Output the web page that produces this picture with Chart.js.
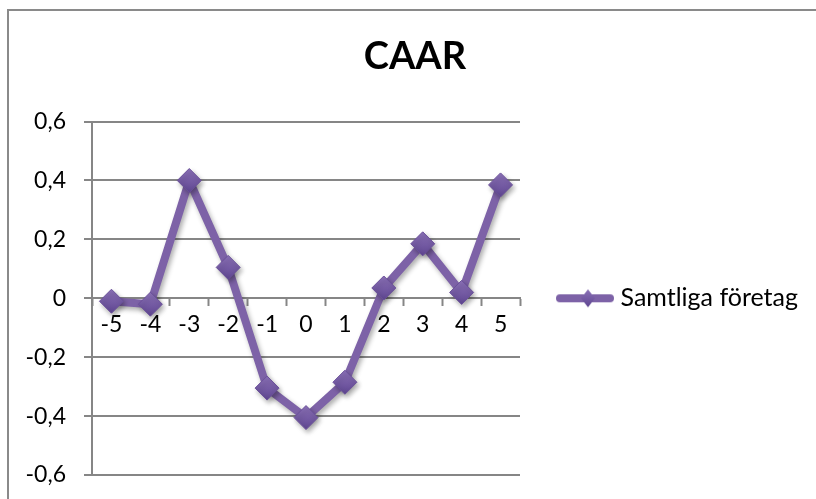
<!DOCTYPE html>
<html>
<head>
<meta charset="utf-8">
<title>CAAR</title>
<script src="https://cdn.jsdelivr.net/npm/chart.js@4.4.1/dist/chart.umd.min.js"></script>
<style>
  html, body { margin: 0; padding: 0; background: #ffffff; }
  #wrap { position: relative; width: 816px; height: 499px; overflow: hidden; }
  #frame {
    position: absolute; left: 7px; top: 9px; right: -20px; bottom: -20px;
    border-top: 2px solid #8a8a8a; border-left: 2px solid #8a8a8a;
  }
  #chart { position: absolute; left: 0; top: 0; }
</style>
</head>
<body>
<div id="wrap">
  <div id="frame"></div>
  <canvas id="chart" width="816" height="499"></canvas>
</div>
<script>
// Event window (days relative to the announcement) and cumulative average abnormal return
const eventDays = ['-5', '-4', '-3', '-2', '-1', '0', '1', '2', '3', '4', '5'];
const caar = [-0.01, -0.02, 0.40, 0.105, -0.305, -0.405, -0.285, 0.035, 0.185, 0.02, 0.385];
const seriesName = 'Samtliga företag';

// Value axis ticks and their Swedish-style labels
const yTicks = [-0.6, -0.4, -0.2, 0, 0.2, 0.4, 0.6];
const yTickLabels = ['-0,6', '-0,4', '-0,2', '0', '0,2', '0,4', '0,6'];

const lineColor = '#7d62a7';
const markerTop = '#8b71b7';
const markerBottom = '#5f4691';
const axisGray = '#868686';
const fontFamily = 'Lato, "Open Sans", sans-serif';

// Legend symbol: a short thick line with a diamond on it
function makeLegendIcon() {
  const c = document.createElement('canvas');
  c.width = 58; c.height = 22;
  const g = c.getContext('2d');
  g.strokeStyle = lineColor;
  g.lineWidth = 8;
  g.lineCap = 'round';
  g.beginPath();
  g.moveTo(4, 11); g.lineTo(54, 11);
  g.stroke();
  const grad = g.createLinearGradient(0, 2, 0, 20);
  grad.addColorStop(0, markerTop);
  grad.addColorStop(1, markerBottom);
  g.fillStyle = grad;
  g.beginPath();
  g.moveTo(32, 2); g.lineTo(39, 11); g.lineTo(32, 20); g.lineTo(25, 11);
  g.closePath();
  g.fill();
  return c;
}

// Diamond fill shaded from top to bottom
function markerFill(context) {
  const chart = context.chart;
  const xs = chart.scales.x, ys = chart.scales.y;
  if (context.type !== 'data' || !xs || !ys || !chart.chartArea) return lineColor;
  const px = xs.getPixelForValue(context.dataIndex);
  const py = ys.getPixelForValue(context.parsed ? context.parsed.y : 0);
  const g = chart.ctx.createLinearGradient(px, py - 12, px, py + 12);
  g.addColorStop(0, markerTop);
  g.addColorStop(1, markerBottom);
  return g;
}

// Soft drop shadow under the series
const seriesShadow = {
  id: 'seriesShadow',
  beforeDatasetsDraw(chart) {
    const ctx = chart.ctx;
    ctx.save();
    ctx.shadowColor = 'rgba(0,0,0,0.32)';
    ctx.shadowBlur = 5;
    ctx.shadowOffsetX = 2;
    ctx.shadowOffsetY = 3;
  },
  afterDatasetsDraw(chart) {
    chart.ctx.restore();
  }
};

// Keep the legend column at a fixed width so the plot area ends where it should
const legendColumn = {
  id: 'legendColumn',
  beforeLayout(chart) {
    const legend = chart.legend;
    if (legend && !legend.__fixedWidth) {
      const fit = legend.fit;
      legend.fit = function () {
        fit.call(this);
        this.width = 296;
      };
      legend.__fixedWidth = true;
    }
  }
};

function draw() {
  const legendIcon = makeLegendIcon();
  new Chart(document.getElementById('chart'), {
    type: 'line',
    data: {
      labels: eventDays,
      datasets: [{
        label: seriesName,
        data: caar,
        borderColor: lineColor,
        borderWidth: 8,
        borderJoinStyle: 'round',
        borderCapStyle: 'round',
        tension: 0,
        fill: false,
        pointStyle: 'rectRot',
        pointRadius: 12,
        pointBorderWidth: 1,
        pointBorderColor: '#6a509a',
        pointBackgroundColor: markerFill
      }]
    },
    options: {
      responsive: false,
      animation: false,
      events: [],
      layout: { padding: { left: 14, top: 0, right: 0, bottom: 24 } },
      scales: {
        x: {
          type: 'category',
          position: { y: 0 },
          offset: true,
          grid: {
            offset: true,
            drawOnChartArea: false,
            drawTicks: true,
            tickLength: 7,
            tickWidth: 2,
            tickColor: axisGray
          },
          border: { display: true, color: axisGray, width: 2 },
          ticks: {
            color: '#000',
            padding: 5,
            maxRotation: 0,
            autoSkip: false,
            font: { family: fontFamily, size: 23 }
          }
        },
        y: {
          min: -0.6,
          max: 0.6,
          afterBuildTicks(scale) {
            scale.ticks = yTicks.map(v => ({ value: v }));
          },
          afterFit(scale) {
            scale.width = 78;
            scale.paddingTop = 0;
            scale.paddingBottom = 0;
          },
          grid: {
            color: axisGray,
            lineWidth: 2,
            drawTicks: true,
            tickLength: 8
          },
          border: { display: true, color: axisGray, width: 2 },
          ticks: {
            color: '#000',
            padding: 18,
            font: { family: fontFamily, size: 23 },
            callback(value) {
              const i = yTicks.findIndex(t => Math.abs(t - value) < 1e-9);
              return i >= 0 ? yTickLabels[i] : '';
            }
          }
        }
      },
      plugins: {
        title: {
          display: true,
          text: 'CAAR',
          color: '#000',
          font: { family: fontFamily, size: 38, weight: 'bold', lineHeight: 1.2 },
          padding: { top: 34, bottom: 42 }
        },
        legend: {
          display: true,
          position: 'right',
          fullSize: false,
          labels: {
            usePointStyle: true,
            pointStyle: legendIcon,
            pointStyleWidth: 46,
            padding: 42,
            color: '#000',
            font: { family: fontFamily, size: 25 }
          }
        },
        tooltip: { enabled: false }
      }
    },
    plugins: [seriesShadow, legendColumn]
  });
}

if (document.fonts && document.fonts.load) {
  Promise.all([
    document.fonts.load('23px Lato'),
    document.fonts.load('bold 38px Lato')
  ]).then(draw, draw);
} else {
  draw();
}
</script>
</body>
</html>
